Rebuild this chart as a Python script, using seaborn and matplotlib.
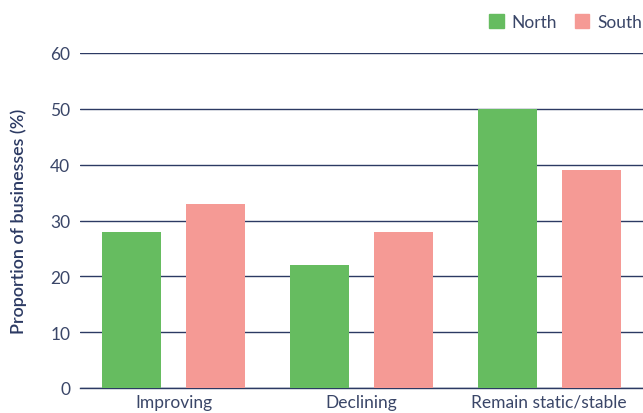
import matplotlib
matplotlib.use("Agg")
import matplotlib.pyplot as plt
import matplotlib.patches as mpatches
import seaborn as sns
import pandas as pd

# Survey outcomes by region
categories = ["Improving", "Declining", "Remain static/stable"]
north = [28, 22, 50]
south = [33, 28, 39]
regions = ["North", "South"]
y_ticks = [0, 10, 20, 30, 40, 50, 60]

green = "#66bc60"
pink = "#f59a95"
navy = "#2c3a63"
text_col = "#3a4668"

df = pd.DataFrame({
    "category": categories * 2,
    "region": [regions[0]] * 3 + [regions[1]] * 3,
    "value": north + south,
})

sns.set_theme(style="white")
plt.rcParams["font.family"] = ["Lato", "DejaVu Sans"]

fig = plt.figure(figsize=(6.43, 4.14), dpi=100)
ax = fig.add_axes([80 / 643, 1 - 389 / 414, 563 / 643, 335 / 414])

sns.barplot(data=df, x="category", y="value", hue="region",
            palette=[green, pink], width=0.895, gap=0.298,
            saturation=1, linewidth=0, edgecolor="none",
            ax=ax, legend=False, zorder=3)

ax.set_ylim(0, 60)
ax.set_xlim(-0.5, 2.5)
ax.set_yticks(y_ticks)
ax.set_yticklabels([str(v) for v in y_ticks])
ax.yaxis.grid(True, color=navy, linewidth=1.0, zorder=0)
ax.set_axisbelow(True)

for s in ["top", "right", "left"]:
    ax.spines[s].set_visible(False)
ax.spines["bottom"].set_color(navy)
ax.spines["bottom"].set_linewidth(1.0)

ax.tick_params(axis="y", length=0, pad=7, labelsize=12.5, labelcolor=text_col)
ax.tick_params(axis="x", which="major", length=0, pad=4, labelsize=12.5,
               labelcolor=text_col)
ax.set_xticks([-0.5, 0.5, 1.5, 2.5], minor=True)
ax.tick_params(axis="x", which="minor", direction="in", length=8,
               width=1.0, color=navy)

ax.set_xlabel("")
ax.set_ylabel("Proportion of businesses (%)", fontsize=13, color=navy,
              fontweight="semibold", labelpad=17)

handles = [mpatches.Patch(color=green, label=regions[0]),
           mpatches.Patch(color=pink, label=regions[1])]
fig.legend(handles=handles, loc="upper right", bbox_to_anchor=(1.012, 0.985),
           ncol=2, frameon=False, fontsize=12.5, handlelength=0.85,
           handleheight=0.85, handletextpad=0.45, columnspacing=1.0,
           labelcolor=text_col, borderaxespad=0.1)

fig.savefig("out.png", dpi=100)
